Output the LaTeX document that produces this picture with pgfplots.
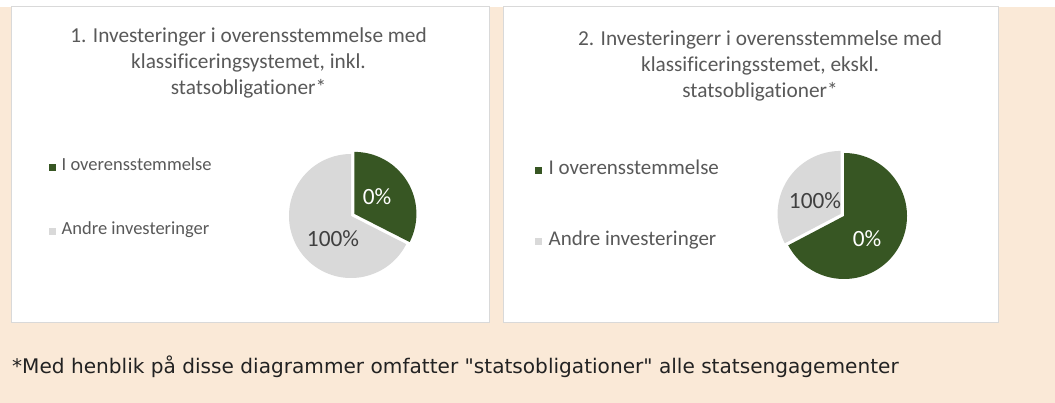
\documentclass[border=0pt]{standalone}
\usepackage{pgfplots}
\pgfplotsset{compat=1.18}
\usepackage{pgfplotstable}
\usepackage{fontspec}
\setmainfont{Carlito}[Ligatures=NoCommon]
\newfontfamily\notefont{DejaVu Sans}
\definecolor{bg}{HTML}{FAE9D7}
\definecolor{pgreen}{HTML}{375623}
\definecolor{pgrey}{HTML}{D9D9D9}
\definecolor{txt}{HTML}{595959}
\definecolor{lbl}{HTML}{404040}
\definecolor{frame}{HTML}{D9D9D9}
\definecolor{note}{HTML}{222222}

% shares (percent of the pie area)
\pgfplotstableread{
series share
compliant 32.5
other 67.5
}\pieone
\pgfplotstableread{
series share
compliant 67.3
other 32.7
}\pietwo

\pgfplotstablegetelem{0}{share}\of\pieone \let\pAone\pgfplotsretval
\pgfplotstablegetelem{0}{share}\of\pietwo \let\pAtwo\pgfplotsretval

% pie 1: centre (351,187), r=62, green slice exploded
\def\rA{62}
\pgfmathsetmacro\cAx{351}\pgfmathsetmacro\cAy{187}
\pgfmathsetmacro\gAend{90-3.6*\pAone}
\pgfmathsetmacro\gAmid{90-1.8*\pAone}
\pgfmathsetmacro\eAx{\cAx+4*cos(\gAmid)}
\pgfmathsetmacro\eAy{\cAy+4*sin(\gAmid)}
\pgfmathsetmacro\sAx{\cAx+\rA*cos(\gAend)}
\pgfmathsetmacro\sAy{\cAy+\rA*sin(\gAend)}
\pgfmathsetmacro\tAy{\eAy+\rA}

% pie 2: centre (844,187), r=63, grey slice exploded
\def\rB{63}
\pgfmathsetmacro\cBx{844}\pgfmathsetmacro\cBy{187}
\pgfmathsetmacro\gBend{90-3.6*\pAtwo}
\pgfmathsetmacro\oBmid{(\gBend-270)/2}
\pgfmathsetmacro\eBx{\cBx+4*cos(\oBmid)}
\pgfmathsetmacro\eBy{\cBy+4*sin(\oBmid)}
\pgfmathsetmacro\sBx{\eBx+\rB*cos(\gBend)}
\pgfmathsetmacro\sBy{\eBy+\rB*sin(\gBend)}
\pgfmathsetmacro\tBy{\cBy+\rB}

\pgfplotsset{
  panel/.style={
    scale only axis, clip=false,
    axis background/.style={fill=white},
    axis line style={draw=frame, line width=1bp},
    xtick=\empty, ytick=\empty,
    ymin=80, ymax=396,
    title style={align=center, anchor=north, inner sep=0pt, text=txt,
      font=\fontsize{21.3bp}{26bp}\selectfont},
    legend style={draw=none, fill=none, anchor=west, inner sep=0pt,
      text=txt, cells={anchor=west},
      nodes={inner sep=0pt, text height=10bp, text depth=3bp}},
    legend image code/.code={\path[##1] (0bp,-3.25bp) rectangle (6.5bp,3.25bp);},
  },
}

\begin{document}
\begin{tikzpicture}
\path[use as bounding box] (0,0) rectangle (1055bp,403bp);
\fill[white] (0,396bp) rectangle (1055bp,403bp);
\fill[bg] (0,0) rectangle (1055bp,396bp);

% ---------- panel 1 ----------
\begin{axis}[panel,
  at={(11bp,80bp)}, anchor=south west,
  width=478bp, height=316bp, xmin=11, xmax=489,
  title={1. Investeringer i overensstemmelse med\\klassificeringsystemet, inkl.\\statsobligationer*},
  title style={at={(0.4969,0.915)}},
  legend style={at={(0.0795,0.391)}, row sep=51bp, column sep=6bp,
    font=\fontsize{18.5bp}{22bp}\selectfont},
]
\addlegendimage{fill=pgreen, draw=none}
\addlegendentry{I overensstemmelse}
\addlegendimage{fill=pgrey, draw=none}
\addlegendentry{Andre investeringer}
\fill[pgrey] (axis cs:\cAx,\cAy) -- (axis cs:\sAx,\sAy)
  arc[start angle=\gAend, end angle=-270, radius=\rA] -- cycle;
\fill[pgreen] (axis cs:\eAx,\eAy) -- (axis cs:\eAx,\tAy)
  arc[start angle=90, end angle=\gAend, radius=\rA] -- cycle;
\node[text=white, font=\fontsize{23.3bp}{26bp}\selectfont] at (axis cs:377,206) {0\%};
\node[text=lbl, font=\fontsize{23.3bp}{26bp}\selectfont] at (axis cs:333,164) {100\%};
\end{axis}

% ---------- panel 2 ----------
\begin{axis}[panel,
  at={(503bp,80bp)}, anchor=south west,
  width=495bp, height=316bp, xmin=503, xmax=998,
  title={2. Investeringerr i overensstemmelse med\\klassificeringsstemet, ekskl.\\statsobligationer*},
  title style={at={(0.5192,0.906)}},
  legend style={at={(0.0646,0.370)}, row sep=58bp, column sep=7bp,
    font=\fontsize{21bp}{25bp}\selectfont},
]
\addlegendimage{fill=pgreen, draw=none}
\addlegendentry{I overensstemmelse}
\addlegendimage{fill=pgrey, draw=none}
\addlegendentry{Andre investeringer}
\fill[pgreen] (axis cs:\cBx,\cBy) -- (axis cs:\cBx,\tBy)
  arc[start angle=90, end angle=\gBend, radius=\rB] -- cycle;
\fill[pgrey] (axis cs:\eBx,\eBy) -- (axis cs:\sBx,\sBy)
  arc[start angle=\gBend, end angle=-270, radius=\rB] -- cycle;
\node[text=lbl, font=\fontsize{23.3bp}{26bp}\selectfont] at (axis cs:815,202) {100\%};
\node[text=white, font=\fontsize{23.3bp}{26bp}\selectfont] at (axis cs:867,164) {0\%};
\end{axis}

\node[anchor=base west, inner sep=0pt, text=note]
  at (12bp,30bp) {\notefont\fontsize{20.1bp}{24bp}\selectfont *Med henblik på disse diagrammer omfatter "statsobligationer" alle statsengagementer};
\end{tikzpicture}
\end{document}
